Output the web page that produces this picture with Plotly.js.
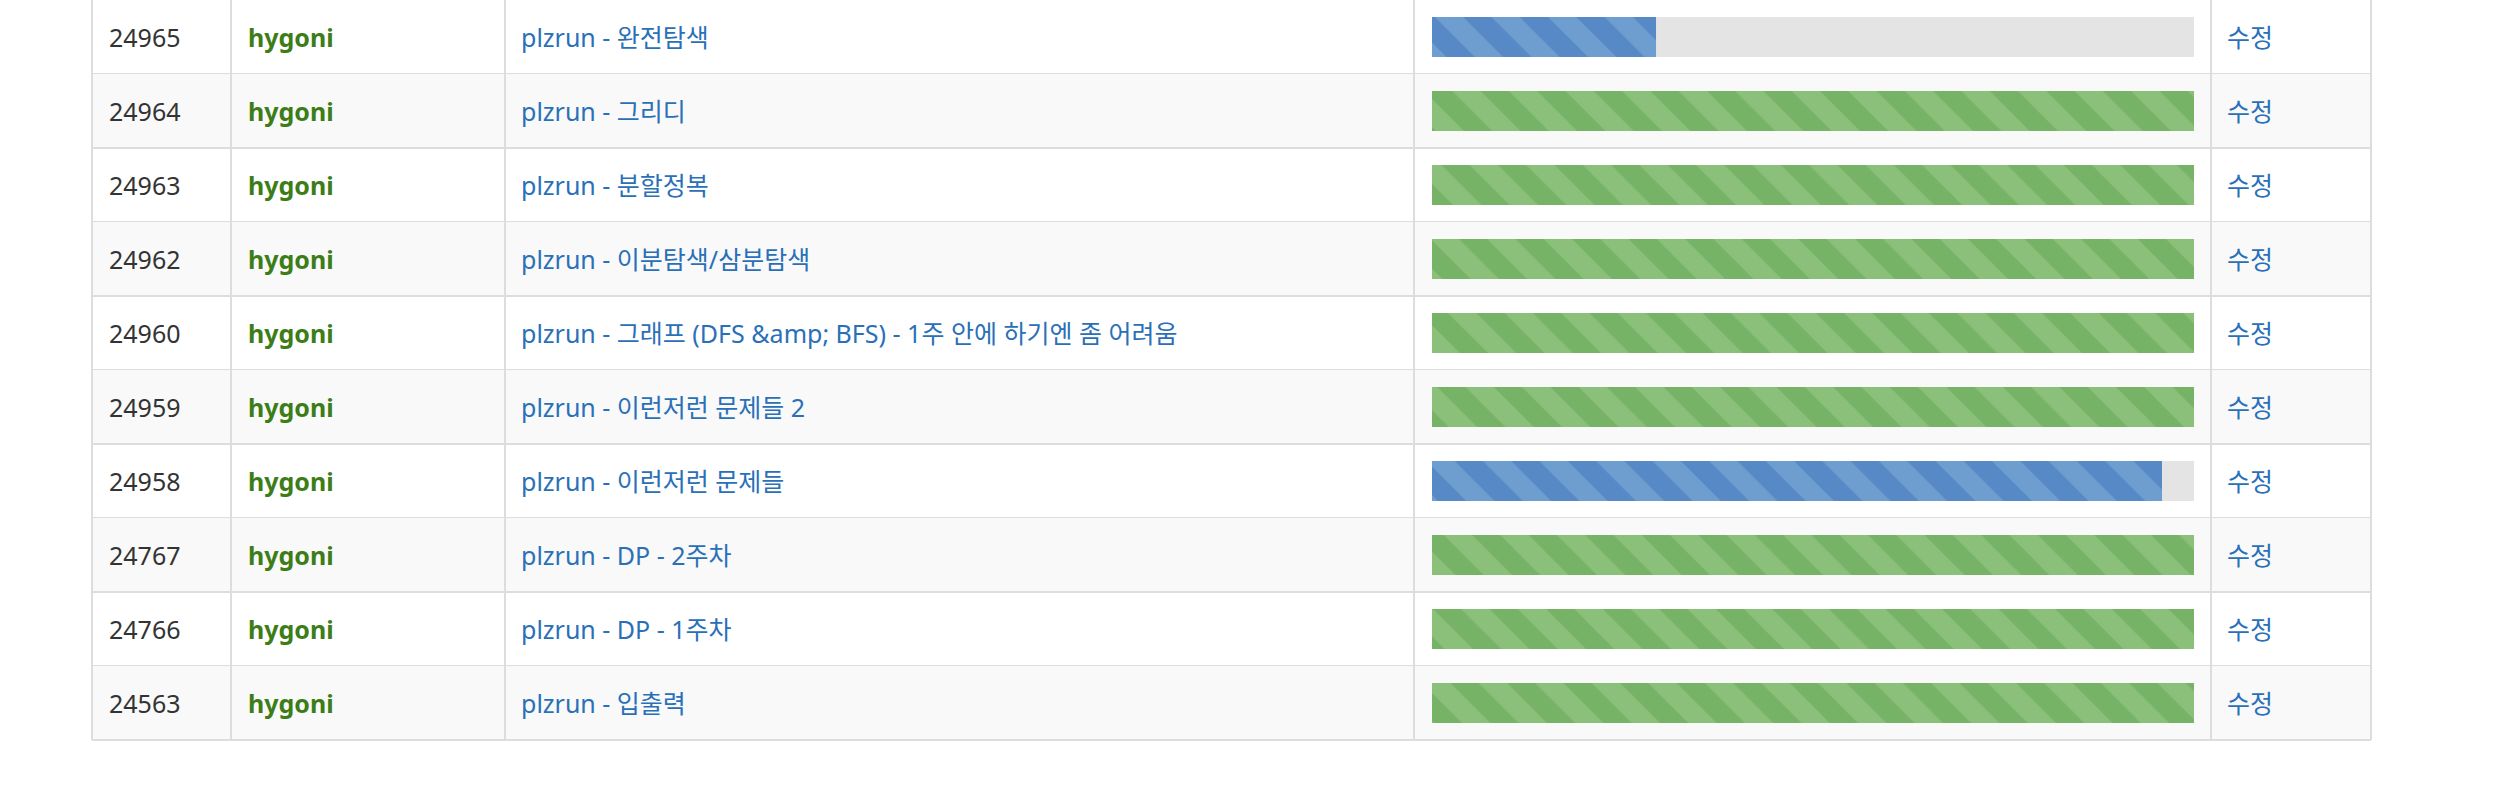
<!DOCTYPE html>
<html>
<head>
<meta charset="utf-8">
<script src="https://cdn.plot.ly/plotly-3.0.1.min.js"></script>
<style>body{margin:0;background:#fff}</style>
</head>
<body>
<div id="chart"></div>
<script>
// Data to display in the table
let ids = ['24965', '24964', '24963', '24962', '24960', '24959', '24958', '24767', '24766', '24563'];
let users = ['hygoni', 'hygoni', 'hygoni', 'hygoni', 'hygoni', 'hygoni', 'hygoni', 'hygoni', 'hygoni', 'hygoni'];
let titles = ['plzrun - 완전탐색', 'plzrun - 그리디', 'plzrun - 분할정복', 'plzrun - 이분탐색/삼분탐색',
    'plzrun - 그래프 (DFS &amp;amp; BFS) - 1주 안에 하기엔 좀 어려움', 'plzrun - 이런저런 문제들 2',
    'plzrun - 이런저런 문제들', 'plzrun - DP - 2주차', 'plzrun - DP - 1주차', 'plzrun - 입출력'];
let progress = [29.4, 100, 100, 100, 100, 100, 95.8, 100, 100, 100];
let editLabel = '수정';

const W = 2500, H = 786, ROW = 74;
const colEdges = [92, 231, 505, 1414, 2211, 2371];
const rows = ids.map((d, i) => i);

function px(x) { return x / W; }

let track = {
    x: rows.map(() => 100), y: rows, type: 'bar', orientation: 'h', width: 0.54,
    marker: {color: '#e4e4e4', line: {width: 0}}, hoverinfo: 'skip'
};

// Finished rows are green, unfinished are blue
function progressTrace(keep, dark, light) {
    let sel = rows.filter(i => keep(progress[i]));
    return {
        x: sel.map(i => progress[i]), y: sel, type: 'bar', orientation: 'h', width: 0.54,
        marker: {
            color: dark,
            line: {width: 0},
            pattern: {shape: '\\', size: 40, solidity: 0.5, fillmode: 'overlay', fgcolor: light, fgopacity: 1}
        },
        hoverinfo: 'skip'
    };
}
let greenBars = progressTrace(p => p >= 100, '#77b366', '#8bc07a');
let blueBars = progressTrace(p => p < 100, '#5689c5', '#6e9ecf');

// Grid and row stripes
let shapes = [];
rows.forEach(i => {
    if (i % 2 == 1) shapes.push({type: 'rect', xref: 'paper', yref: 'y', x0: px(colEdges[0]), x1: px(colEdges[5]),
        y0: i - 0.5, y1: i + 0.5, fillcolor: '#f9f9f9', line: {width: 0}, layer: 'below'});
    shapes.push({type: 'line', xref: 'paper', yref: 'y', x0: px(colEdges[0]), x1: px(colEdges[5]),
        y0: i + 0.5, y1: i + 0.5, line: {color: '#dddddd', width: 2}, layer: 'below'});
});
colEdges.forEach(c => shapes.push({type: 'line', xref: 'paper', yref: 'y', x0: px(c), x1: px(c),
    y0: -0.5, y1: rows.length - 0.5, line: {color: '#dddddd', width: 2}, layer: 'below'}));

// Cell texts
let annotations = [];
let font = 'Noto Sans, Noto Sans CJK KR, sans-serif';
rows.forEach(i => {
    annotations.push({xref: 'paper', yref: 'y', x: px(107), y: i, xanchor: 'left', showarrow: false,
        text: ids[i], font: {family: font, size: 25, color: '#333333'}});
    annotations.push({xref: 'paper', yref: 'y', x: px(246), y: i, xanchor: 'left', showarrow: false,
        text: '<b>' + users[i] + '</b>', font: {family: font, size: 25, color: '#3c7d18'}});
    annotations.push({xref: 'paper', yref: 'y', x: px(519), y: i, xanchor: 'left', showarrow: false,
        text: titles[i], font: {family: font, size: 25, color: '#2a70b8'}});
    annotations.push({xref: 'paper', yref: 'y', x: px(2225), y: i, xanchor: 'left', showarrow: false,
        text: editLabel, font: {family: font, size: 25, color: '#2a70b8'}});
});

let layout = {
    width: W, height: H,
    margin: {l: 0, r: 0, t: 0, b: 0},
    paper_bgcolor: '#ffffff', plot_bgcolor: 'rgba(0,0,0,0)',
    barmode: 'overlay', showlegend: false,
    xaxis: {domain: [px(1432), px(2194)], range: [0, 100], visible: false, fixedrange: true},
    yaxis: {range: [H / ROW - 0.5, -0.5], visible: false, fixedrange: true},
    shapes: shapes,
    annotations: annotations
};

Plotly.newPlot('chart', [track, greenBars, blueBars], layout, {displayModeBar: false, staticPlot: true});
</script>
</body>
</html>
